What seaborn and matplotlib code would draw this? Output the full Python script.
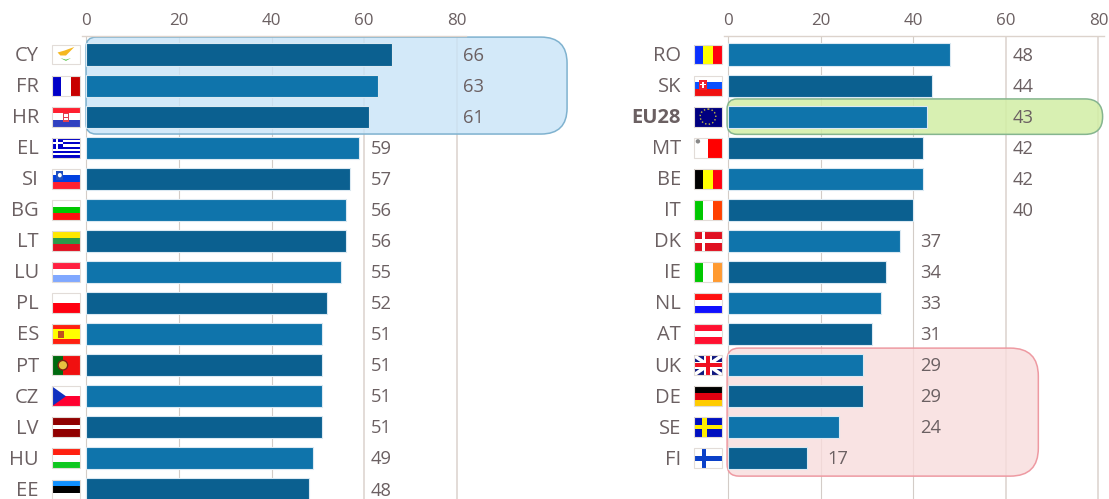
import matplotlib
matplotlib.use("Agg")
import matplotlib.pyplot as plt
import seaborn as sns
from matplotlib.patches import PathPatch, Polygon, Rectangle, Ellipse
from matplotlib.path import Path
from matplotlib.transforms import Affine2D, ScaledTranslation

left_codes = ["CY", "FR", "HR", "EL", "SI", "BG", "LT", "LU", "PL", "ES", "PT", "CZ", "LV", "HU", "EE"]
left_values = [66, 63, 61, 59, 57, 56, 56, 55, 52, 51, 51, 51, 51, 49, 48]
right_codes = ["RO", "SK", "EU28", "MT", "BE", "IT", "DK", "IE", "NL", "AT", "UK", "DE", "SE", "FI"]
right_values = [48, 44, 43, 42, 42, 40, 37, 34, 33, 31, 29, 29, 24, 17]
x_ticks = [0, 20, 40, 60, 80]

DARK, LIGHT = "#0b6090", "#0f74ab"
TXT = "#6b6062"
W, H = 1109, 499
PXU = 4.625      # pixels per x unit
PXR = 31.07      # pixels per row
TOP = 36.0
ROW0 = 54.5

sns.set_theme(style="white")
plt.rcParams["font.family"] = ["Open Sans", "DejaVu Sans"]

# flag definitions: stripes run top->bottom ("h") or left->right ("v")
H_STRIPES = {
    "FR": ("v", ["#0000c8", "#ffffff", "#c80000"]),
    "HR": ("h", ["#ff2030", "#ffffff", "#3040c0"]),
    "SI": ("h", ["#ffffff", "#0040e0", "#ff2030"]),
    "BG": ("h", ["#ffffff", "#00c800", "#ff1010"]),
    "LT": ("h", ["#ffe800", "#2a9a4a", "#e01020"]),
    "LU": ("h", ["#ff2040", "#ffffff", "#80a8ff"]),
    "PL": ("h", ["#ffffff", "#ff0010"]),
    "ES": ("h", ["#ff2010", "#ffff00", "#ffff00", "#ff2010"]),
    "LV": ("h", ["#900000", "#900000", "#ffffff", "#900000", "#900000"]),
    "HU": ("h", ["#ff2010", "#ffffff", "#10c820"]),
    "EE": ("h", ["#1090ff", "#000000", "#ffffff"]),
    "RO": ("v", ["#0a30ff", "#ffff00", "#ff0010"]),
    "SK": ("h", ["#ffffff", "#0a50ff", "#f01010"]),
    "BE": ("v", ["#000000", "#ffff00", "#ff0010"]),
    "IT": ("v", ["#00c800", "#ffffff", "#ff4000"]),
    "IE": ("v", ["#00c800", "#ffffff", "#ff9a30"]),
    "NL": ("h", ["#ff1010", "#ffffff", "#1010ff"]),
    "AT": ("h", ["#ff1030", "#ffffff", "#ff1030"]),
    "DE": ("h", ["#000000", "#e00010", "#ffcc00"]),
    "CY": ("h", ["#ffffff"]),
    "PT": ("h", ["#f01010"]),
    "CZ": ("h", ["#ffffff", "#ff0030"]),
    "MT": ("v", ["#ffffff", "#ff0000"]),
    "EU28": ("h", ["#000080"]),
    "EL": ("h", ["#0000c8", "#ffffff"] * 4 + ["#0000c8"]),
    "DK": ("h", ["#e01020"]),
    "UK": ("h", ["#101880"]),
    "SE": ("h", ["#0010c0"]),
    "FI": ("h", ["#ffffff"]),
}


def draw_flag(ax, row, code):
    x0, wd = -7.46, 6.05
    hh = 0.64
    tr = Affine2D().scale(wd, hh).translate(x0, row - hh / 2) + ax.transData

    def add(p):
        p.set_transform(tr)
        p.set_clip_on(False)
        p.set_zorder(5)
        ax.add_patch(p)

    def rect(x, y, w, h, c):
        add(Rectangle((x, y), w, h, fc=c, ec="none"))

    def poly(pts, c):
        add(Polygon(pts, closed=True, fc=c, ec="none"))

    orient, cols = H_STRIPES[code]
    n = len(cols)
    for i, c in enumerate(cols):
        if orient == "h":
            rect(0, i / n, 1, 1 / n, c)
        else:
            rect(i / n, 0, 1 / n, 1, c)
    if code == "MT":
        rect(0, 0, 1, 1, "#ffffff")
        rect(0.5, 0, 0.5, 1, "#ff0000")
        add(Ellipse((0.14, 0.18), 0.16, 0.22, fc="#888888", ec="none"))
    elif code == "CY":
        poly([(0.2, 0.4), (0.45, 0.3), (0.8, 0.12), (0.62, 0.38), (0.5, 0.55), (0.3, 0.55)], "#f5b820")
        poly([(0.3, 0.68), (0.5, 0.82), (0.68, 0.68), (0.5, 0.76)], "#50c040")
    elif code == "HR":
        rect(0.38, 0.3, 0.24, 0.45, "#e04050")
        rect(0.44, 0.38, 0.12, 0.12, "#ffffff")
        rect(0.44, 0.58, 0.12, 0.1, "#ffffff")
    elif code == "EL":
        rect(0, 0, 0.38, 0.56, "#0000c8")
        rect(0.15, 0, 0.08, 0.56, "#ffffff")
        rect(0, 0.22, 0.38, 0.11, "#ffffff")
    elif code == "SI":
        rect(0.16, 0.12, 0.24, 0.42, "#2050c0")
        add(Ellipse((0.28, 0.32), 0.14, 0.22, fc="#ffffff", ec="none"))
    elif code == "ES":
        rect(0.2, 0.32, 0.22, 0.38, "#c05020")
    elif code == "PT":
        rect(0, 0, 0.4, 1, "#006a10")
        add(Ellipse((0.39, 0.5), 0.34, 0.48, fc="#e8c040", ec="#802010", lw=1))
    elif code == "CZ":
        poly([(0, 0), (0.5, 0.5), (0, 1)], "#1030c0")
    elif code == "SK":
        rect(0.17, 0.22, 0.3, 0.5, "#f02030")
        rect(0.29, 0.3, 0.06, 0.3, "#ffffff")
        rect(0.22, 0.4, 0.2, 0.07, "#ffffff")
    elif code == "EU28":
        add(Ellipse((0.5, 0.5), 0.56, 0.76, fc="none", ec="#c8c040", lw=1, ls=":"))
    elif code == "DK":
        rect(0.29, 0, 0.1, 1, "#ffffff")
        rect(0, 0.42, 1, 0.16, "#ffffff")
    elif code == "SE":
        rect(0.3, 0, 0.16, 1, "#ffee00")
        rect(0, 0.4, 1, 0.2, "#ffee00")
    elif code == "FI":
        rect(0.27, 0, 0.17, 1, "#0a40c8")
        rect(0, 0.38, 1, 0.24, "#0a40c8")
    elif code == "UK":
        for pts in ([(0, 0), (0.1, 0), (1, 0.88), (1, 1), (0.9, 1), (0, 0.12)],
                    [(1, 0), (0.9, 0), (0, 0.88), (0, 1), (0.1, 1), (1, 0.12)]):
            poly(pts, "#ffffff")
        rect(0.36, 0, 0.28, 1, "#ffffff")
        rect(0, 0.33, 1, 0.34, "#ffffff")
        rect(0.42, 0, 0.16, 1, "#f01020")
        rect(0, 0.4, 1, 0.2, "#f01020")
    # thin light frame round every flag
    add(Rectangle((0, 0), 1, 1, fc="none", ec="#e2dcd8", lw=0.8))


def panel(rect_px, xlim, codes, values, first_dark):
    x0, x1 = rect_px
    ax = fig.add_axes([x0 / W, 0, (x1 - x0) / W, (H - TOP) / H])
    colors = [(DARK if (i % 2 == 0) == first_dark else LIGHT) for i in range(len(codes))]
    sns.barplot(y=codes, x=values, hue=codes, palette=colors, legend=False, orient="h",
                width=0.71, saturation=1, edgecolor="#dbe9f2", linewidth=0.8, ax=ax, zorder=3)
    ax.set_xlim(*xlim)
    ax.set_ylim((H - ROW0) / PXR, (TOP - ROW0) / PXR)
    ax.set_xticks(x_ticks)
    ax.xaxis.tick_top()
    ax.tick_params(axis="x", length=0, pad=5, labelsize=12.2, labelcolor=TXT)
    ax.tick_params(axis="y", length=0, pad=31, labelsize=14.5, labelcolor=TXT)
    up = ScaledTranslation(0, 1.2 / 100, fig.dpi_scale_trans)
    for lbl in ax.get_yticklabels():
        lbl.set_transform(lbl.get_transform() + up)
    ax.grid(axis="x", color="#d3ccc7", linewidth=0.8, zorder=0)
    ax.grid(axis="y", visible=False)
    for gl, tick in zip(ax.xaxis.get_gridlines(), x_ticks):
        if tick >= 60:
            gl.set_linewidth(1.4)
            gl.set_color("#e3dcd7")
    for s in ("left", "right", "bottom"):
        ax.spines[s].set_visible(False)
    ax.spines["top"].set_color("#dcd3cc")
    ax.spines["top"].set_linewidth(1.0)
    ax.patch.set_alpha(0)
    ax.set_xlabel("")
    ax.set_ylabel("")
    for i, (c, v) in enumerate(zip(codes, values)):
        ax.text((v // 20 + 1) * 20 + 1.45, i + 0.035, str(v), va="center", ha="left",
                fontsize=13.2, color=TXT, zorder=6)
        draw_flag(ax, i, c)
    return ax


def highlight(ax, x_a, x_b, row_a, row_b, r_left, r_right, fc, ec, alpha):
    """Box with separate left and right corner radii given in pixels."""
    lx, ly = r_left / PXU, r_left / PXR
    rx, ry = r_right / PXU, r_right / PXR
    verts = [(x_a + lx, row_a), (x_b - rx, row_a), (x_b, row_a), (x_b, row_a + ry),
             (x_b, row_b - ry), (x_b, row_b), (x_b - rx, row_b), (x_a + lx, row_b),
             (x_a, row_b), (x_a, row_b - ly), (x_a, row_a + ly), (x_a, row_a),
             (x_a + lx, row_a), (x_a + lx, row_a)]
    C3, L = Path.CURVE3, Path.LINETO
    codes = [Path.MOVETO, L, C3, C3, L, C3, C3, L, C3, C3, L, C3, C3, Path.CLOSEPOLY]
    path = Path(verts, codes)
    ax.add_patch(PathPatch(path, fc=fc, ec="none", alpha=alpha, zorder=2, clip_on=False))
    ax.add_patch(PathPatch(path, fc="none", ec=ec, lw=1.1, zorder=2.5, clip_on=False))


fig = plt.figure(figsize=(W / 100, H / 100), dpi=100)
fig.patch.set_facecolor("white")
ax_l = panel((82, 466), (-0.97, 82.05), left_codes, left_values, True)
ax_r = panel((724, 1104), (-0.97, 81.2), right_codes, right_values, False)

for lbl in ax_r.get_yticklabels():
    if lbl.get_text() == "EU28":
        lbl.set_fontweight("bold")

highlight(ax_l, -0.1, 103.9, -0.56, 2.56, 10, 26, "#c9e4f8", "#7fb2cf", 0.8)
highlight(ax_r, -0.3, 80.9, 1.43, 2.57, 10, 17.5, "#d2eea5", "#85b58f", 0.85)
highlight(ax_r, -0.3, 67.0, 9.45, 13.57, 12, 28, "#f8dcdc", "#ee9aa2", 0.8)

fig.savefig("out.png", dpi=100)
